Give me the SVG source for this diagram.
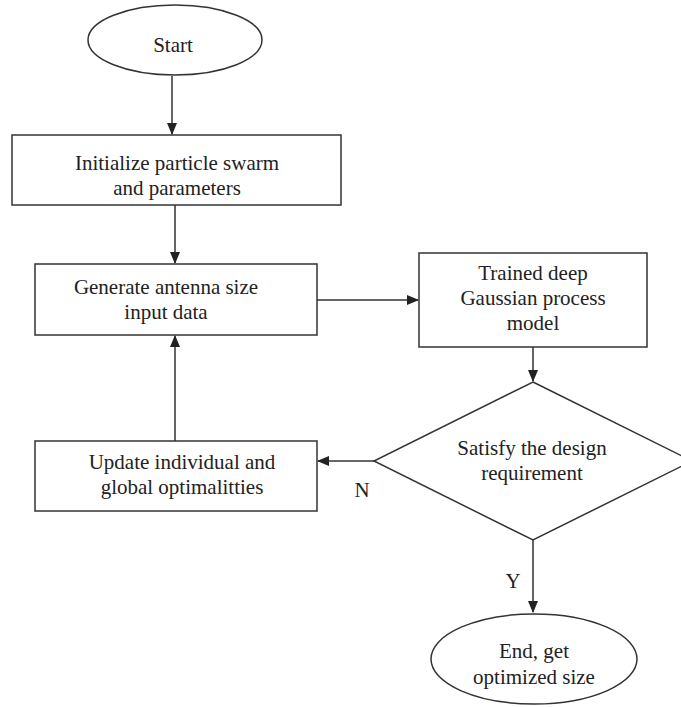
<svg xmlns="http://www.w3.org/2000/svg" width="681" height="707" viewBox="0 0 681 707">
<defs>
<marker id="ah" markerWidth="12" markerHeight="10" refX="11" refY="5" orient="auto" markerUnits="userSpaceOnUse">
<path d="M0,0 L12,5 L0,10 Z" fill="#222"/>
</marker>
<style>
.s{fill:#fff;stroke:#333;stroke-width:1.5}
.t{font-family:"Liberation Serif","Times New Roman",serif;font-size:21px;fill:#222;text-anchor:middle}
.c{fill:none;stroke:#333;stroke-width:1.5;marker-end:url(#ah)}
</style>
</defs>
<rect width="681" height="707" fill="#fff"/>
<g id="connectors">
<line class="c" x1="172" y1="76" x2="172" y2="134"/>
<line class="c" x1="175" y1="205" x2="175" y2="263"/>
<line class="c" x1="317" y1="300" x2="418" y2="300"/>
<line class="c" x1="533" y1="347" x2="533" y2="381"/>
<line class="c" x1="374" y1="461" x2="318" y2="461"/>
<line class="c" x1="175" y1="441" x2="175" y2="336"/>
<line class="c" x1="533" y1="540" x2="533" y2="612"/>
<text class="t" x="362" y="497">N</text>
<text class="t" x="513" y="588">Y</text>
</g>
<g id="start">
<ellipse class="s" cx="175" cy="40" rx="87" ry="35"/>
<text class="t" x="173" y="52">Start</text>
</g>
<g id="init">
<rect class="s" x="12" y="135" width="329" height="70"/>
<text class="t" x="177" y="170">Initialize particle swarm</text>
<text class="t" x="177" y="195">and parameters</text>
</g>
<g id="generate">
<rect class="s" x="35" y="264" width="282" height="71"/>
<text class="t" x="166" y="294">Generate antenna size</text>
<text class="t" x="166" y="319">input data</text>
</g>
<g id="trained">
<rect class="s" x="419" y="253" width="228" height="94"/>
<text class="t" x="533" y="280">Trained deep</text>
<text class="t" x="533" y="305">Gaussian process</text>
<text class="t" x="533" y="330">model</text>
</g>
<g id="decision">
<polygon class="s" points="533,382 692,461 533,540 374,461"/>
<text class="t" x="532" y="455">Satisfy the design</text>
<text class="t" x="532" y="480">requirement</text>
</g>
<g id="update">
<rect class="s" x="35" y="441" width="282" height="70"/>
<text class="t" x="182" y="469">Update individual and</text>
<text class="t" x="182" y="494">global optimalitties</text>
</g>
<g id="end">
<ellipse class="s" cx="534" cy="659" rx="103" ry="45"/>
<text class="t" x="534" y="658">End, get</text>
<text class="t" x="534" y="684">optimized size</text>
</g>
</svg>
